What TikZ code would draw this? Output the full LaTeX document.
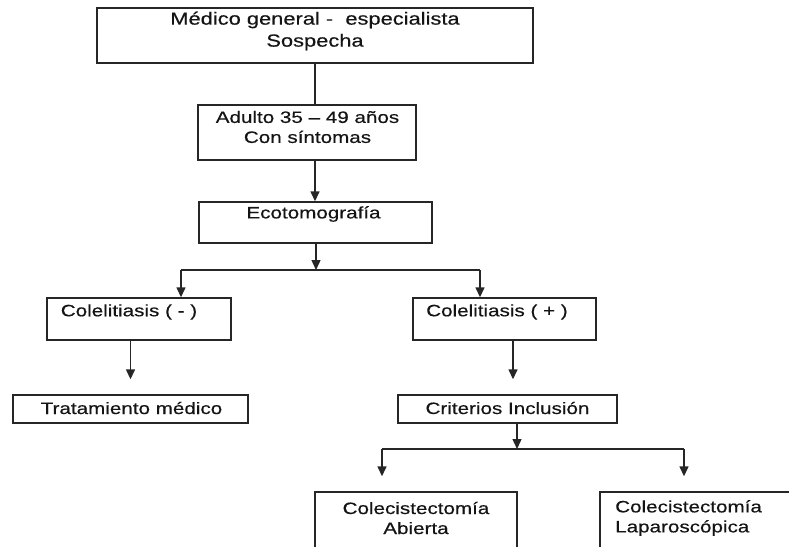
\documentclass[tikz,border=0pt]{standalone}
\usepackage{fontspec}
\setmainfont{Liberation Sans}[FakeStretch=1.25,FakeBold=0.4]
\usetikzlibrary{arrows.meta}
\tikzset{
  box/.style={draw=black!85, line width=1.4pt, rectangle, inner sep=0pt},
  txt/.style={font=\fontsize{16.5}{20}\selectfont, text=black!92, inner sep=0pt, align=center},
  arr/.style={-{Triangle[width=9pt,length=10pt]}, line width=1.4pt, draw=black!85},
  ln/.style={line width=1.4pt, draw=black!85}
}
\begin{document}
\begin{tikzpicture}[x=1pt,y=-1pt]
\useasboundingbox (0,0) rectangle (789,546);
\clip (0,0) rectangle (789,546);
% boxes
\node[box, minimum width=436, minimum height=55] (b1) at (315,35.5) {};
\node[box, minimum width=218, minimum height=55] (b2) at (307,132.5) {};
\node[box, minimum width=233, minimum height=41] (b3) at (315.5,222.5) {};
\node[box, minimum width=184, minimum height=42] (cm) at (139,319) {};
\node[box, minimum width=183, minimum height=42] (cp) at (504.5,319) {};
\node[box, minimum width=235, minimum height=28] (trat) at (130.5,409) {};
\node[box, minimum width=219, minimum height=28] (crit) at (507.5,409) {};
\node[box, minimum width=202, minimum height=68] (ab) at (416,526) {};
\node[box, minimum width=200, minimum height=68] (lap) at (700,526) {};
% texts
\node[txt, font=\fontsize{17.5}{22}\selectfont] (t1) at (315,31) {Médico general -~ especialista\\Sospecha};
\node[txt] (t2) at (307.5,127) {Adulto 35 – 49 años\\Con síntomas};
\node[txt] (t3) at (313.5,214) {Ecotomografía};
\node[txt] (tcm) at (129,312) {Colelitiasis ( - )};
\node[txt] (tcp) at (497,312) {Colelitiasis ( + )};
\node[txt] (ttr) at (131.5,408) {Tratamiento médico};
\node[txt] (tcr) at (507.5,408) {Criterios Inclusión};
\node[txt] (tab) at (416,518) {Colecistectomía\\Abierta};
\node[txt, align=left, anchor=west] (tlap) at (615,518) {Colecistectomía\\Laparoscópica};
% junction coordinates
\coordinate (j1) at (316,270);
\coordinate (j1l) at (181,270);
\coordinate (j1r) at (480,270);
\coordinate (j2) at (517,449);
\coordinate (j2l) at (382,449);
\coordinate (j2r) at (684,449);
% connectors
\draw[ln] (b1.south) -- (b2.north -| b1.south);
\draw[arr] (b2.south -| b1.south) -- (b3.north -| b1.south);
\draw[arr] (b3.south -| j1) -- (j1);
\draw[ln] (j1l) -- (j1r);
\draw[arr] (j1l) -- (cm.north -| j1l);
\draw[arr] (j1r) -- (cp.north -| j1r);
\draw[arr] (trat.north |- cm.south) -- ([yshift=15pt]trat.north);
\draw[arr] ([xshift=8.5pt]cp.south) -- ([xshift=5.5pt,yshift=15pt]crit.north);
\draw[arr] ([xshift=9.5pt]crit.south) -- (j2);
\draw[ln] (j2l) -- (j2r);
\draw[arr] (j2l) -- ([yshift=15pt]ab.north -| j2l);
\draw[arr] (j2r) -- ([yshift=15pt]lap.north -| j2r);
\end{tikzpicture}
\end{document}
